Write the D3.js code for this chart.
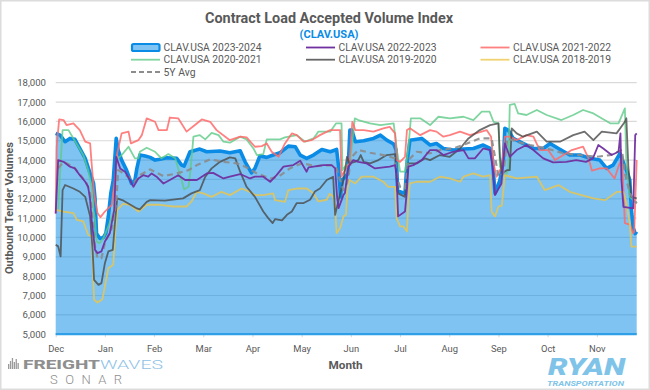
<!DOCTYPE html>
<html><head><meta charset="utf-8">
<script src="https://cdn.jsdelivr.net/npm/d3@7/dist/d3.min.js"></script>
<style>html,body{margin:0;padding:0;background:#fff}svg{display:block}text{font-family:Roboto,"Noto Sans",sans-serif}</style>
</head><body><svg id="c" width="650" height="390"></svg>
<script>
const months=["Dec","Jan","Feb","Mar","Apr","May","Jun","Jul","Aug","Sep","Oct","Nov"];
const yTicks=[5000,6000,7000,8000,9000,10000,11000,12000,13000,14000,15000,16000,17000,18000];
// [month position, tender volume]
const clav2324=[[0,15380],[.09,15290],[.19,14950],[.29,15120],[.39,15070],[.49,14600],[.6,14090],[.7,13310],[.77,12800],[.8,12000],[.83,10200],[.9,9950],[.97,10000],[1.02,10220],[1.07,11090],[1.12,12280],[1.17,12970],[1.23,15120],[1.27,14520],[1.34,14000],[1.44,13480],[1.54,12790],[1.61,12960],[1.65,13570],[1.71,14260],[1.82,14210],[1.92,14140],[2.02,14000],[2.12,14040],[2.26,14120],[2.46,14090],[2.56,13740],[2.61,13690],[2.66,14000],[2.73,14430],[2.93,14570],[3.07,14430],[3.34,14470],[3.54,14380],[3.75,14480],[3.85,13910],[3.98,13340],[4.05,13570],[4.15,14210],[4.29,14140],[4.42,14260],[4.56,14380],[4.73,14720],[4.87,14690],[4.97,14260],[5.1,14090],[5.24,14260],[5.41,14550],[5.58,14430],[5.71,14550],[5.75,13660],[5.79,12100],[5.82,12970],[5.89,13140],[5.94,13310],[5.98,15550],[6.02,15550],[6.09,14950],[6.26,15000],[6.46,15120],[6.6,15290],[6.73,15030],[6.87,14830],[6.92,14520],[6.95,12450],[7,12360],[7.1,12280],[7.14,13830],[7.2,15030],[7.44,15120],[7.61,14780],[7.74,14860],[7.88,14600],[8.08,14520],[8.29,14570],[8.49,14600],[8.69,14780],[8.83,14600],[8.88,14000],[8.93,12280],[9.03,12970],[9.1,14000],[9.13,15640],[9.2,15550],[9.3,15120],[9.5,14860],[9.71,14600],[9.91,14600],[10.05,14860],[10.22,14600],[10.45,14260],[10.66,14260],[10.86,14090],[11.06,14000],[11.2,13570],[11.33,13740],[11.47,14350],[11.6,13480],[11.67,12970],[11.7,11500],[11.74,10500],[11.78,10200],[11.81,10300]];
const clav2223=[[0,11240],[.05,14000],[.16,13910],[.29,13660],[.39,13570],[.49,13220],[.6,12880],[.66,12620],[.7,11950],[.73,10910],[.8,9360],[.85,9190],[.93,9280],[1,9790],[1.1,10220],[1.19,11430],[1.23,14170],[1.31,13570],[1.41,13400],[1.51,12970],[1.58,12620],[1.68,13050],[1.78,13220],[1.88,13140],[1.95,13310],[2.05,13140],[2.19,12790],[2.32,12970],[2.49,13220],[2.63,12970],[2.87,12970],[3.07,13310],[3.2,13340],[3.41,13050],[3.54,13140],[3.75,13280],[3.95,13050],[4.05,13140],[4.22,13140],[4.36,12880],[4.49,13220],[4.63,13660],[4.83,13740],[4.97,13970],[5.1,13400],[5.14,13620],[5.44,13740],[5.61,13740],[5.68,13570],[5.72,12100],[5.75,11520],[5.85,12200],[5.88,12300],[5.95,13660],[6.05,14000],[6.15,13910],[6.32,13830],[6.49,13570],[6.66,13620],[6.79,13660],[6.9,13740],[6.93,13140],[6.96,11090],[7.1,11340],[7.14,12470],[7.17,13660],[7.27,13740],[7.44,14000],[7.61,14520],[7.74,14520],[7.88,14260],[8.08,14430],[8.29,14520],[8.39,14090],[8.52,14090],[8.69,14600],[8.83,14520],[8.88,13660],[8.93,12190],[9.06,12790],[9.13,14860],[9.23,14170],[9.37,14520],[9.57,14780],[9.71,14520],[9.91,14090],[10.11,13880],[10.38,13910],[10.58,14000],[10.78,13910],[10.92,14090],[11.03,14780],[11.13,14600],[11.3,14260],[11.44,14430],[11.48,15380],[11.5,12970],[11.54,11580],[11.74,11500],[11.78,15290],[11.81,15380]];
const clav2122=[[0,11240],[.02,14690],[.07,16100],[.16,16070],[.22,15810],[.36,15900],[.49,15550],[.6,14950],[.7,14860],[.73,13830],[.78,12280],[.8,11950],[.85,11260],[.91,11050],[1,11340],[1.14,11690],[1.21,13140],[1.25,14340],[1.34,15380],[1.48,15470],[1.53,14860],[1.68,15030],[1.75,15290],[1.85,16160],[2.02,15980],[2.09,15550],[2.26,15550],[2.32,16200],[2.49,16160],[2.66,15470],[2.83,15810],[2.97,16100],[3.14,15980],[3.27,15550],[3.54,15030],[3.75,15210],[3.88,15170],[4.05,14690],[4.19,14720],[4.29,14860],[4.39,14430],[4.53,14170],[4.66,14860],[4.8,15380],[4.9,15290],[5.04,14950],[5.2,15030],[5.37,15290],[5.58,15550],[5.71,15550],[5.78,15550],[5.81,13140],[5.88,13480],[5.97,13830],[6.03,15980],[6.09,15550],[6.26,15550],[6.46,15470],[6.66,15640],[6.79,15720],[6.9,15380],[6.93,14000],[7,13910],[7.1,14170],[7.14,15550],[7.2,15640],[7.41,15290],[7.61,15550],[7.74,15470],[7.88,15210],[8.01,15290],[8.22,15470],[8.42,15290],[8.76,15550],[8.85,15210],[8.9,13830],[8.96,13140],[9.07,13660],[9.13,15210],[9.23,15210],[9.37,15030],[9.57,15290],[9.71,15210],[9.84,14520],[10.01,14520],[10.15,14000],[10.32,14260],[10.49,14520],[10.72,14690],[10.83,14090],[10.9,13450],[11.06,13570],[11.2,13570],[11.36,13050],[11.44,13660],[11.51,14090],[11.54,12450],[11.57,10740],[11.67,10660],[11.74,10220],[11.76,10300],[11.81,14000]];
const clav2021=[[0,11410],[.05,11410],[.1,13830],[.14,15550],[.26,15550],[.36,15120],[.46,14690],[.56,14260],[.66,13480],[.73,12620],[.77,11410],[.8,10910],[.83,9790],[.89,9700],[.97,9970],[1.07,10570],[1.19,11430],[1.23,14000],[1.34,14260],[1.48,14690],[1.61,14090],[1.68,14090],[1.71,14430],[1.85,14640],[2.02,14430],[2.15,14090],[2.29,14310],[2.43,14090],[2.49,13570],[2.56,12970],[2.61,12480],[2.7,12620],[2.74,13480],[2.8,15210],[2.93,15290],[3.04,15070],[3.17,15410],[3.31,15290],[3.41,14950],[3.54,14900],[3.75,15210],[3.88,15070],[4.02,14600],[4.09,14260],[4.22,14310],[4.29,15070],[4.56,15070],[4.66,15170],[4.9,15290],[5.07,14950],[5.24,15120],[5.34,15470],[5.58,15470],[5.7,15900],[5.81,15900],[5.83,13480],[5.88,13660],[5.98,13830],[6.08,16160],[6.15,16070],[6.39,15900],[6.6,15810],[6.87,15900],[6.94,14430],[7,13400],[7.1,13400],[7.17,14690],[7.22,16160],[7.41,16160],[7.61,15810],[7.78,16240],[8.01,16160],[8.29,16240],[8.49,16070],[8.66,16500],[8.82,16500],[8.9,15980],[9,15900],[9.03,13660],[9.13,13140],[9.2,13480],[9.23,16850],[9.33,16900],[9.4,16410],[9.57,16330],[9.78,16590],[9.98,16330],[10.28,16070],[10.52,16330],[10.72,16590],[10.93,16410],[11.27,15900],[11.44,15900],[11.57,16670],[11.6,13830],[11.67,12100],[11.81,11760]];
const clav1920=[[0,9620],[.05,9540],[.1,9020],[.14,12450],[.19,12710],[.36,12530],[.49,12360],[.6,12100],[.7,11090],[.75,9360],[.78,7810],[.87,7550],[.93,7640],[1,8670],[1.07,9280],[1.16,9360],[1.21,10910],[1.25,12020],[1.38,11900],[1.65,11500],[1.71,11450],[1.85,11840],[1.92,11930],[2.22,11900],[2.59,12020],[2.76,12280],[2.93,12450],[3.04,13140],[3.17,13570],[3.34,13910],[3.54,14140],[3.65,14090],[3.75,13400],[3.88,12620],[4.05,12100],[4.22,11340],[4.32,11000],[4.41,10740],[4.46,10950],[4.6,10880],[4.7,11170],[4.8,11340],[4.9,11780],[5.04,11780],[5.17,11950],[5.27,12380],[5.37,12530],[5.51,12970],[5.64,13140],[5.68,11170],[5.85,12970],[5.92,14170],[5.97,13830],[6.08,13910],[6.15,14000],[6.2,14260],[6.26,13910],[6.39,13830],[6.56,14000],[6.73,14260],[6.9,14310],[6.92,13310],[6.96,12280],[7.1,12100],[7.17,13830],[7.34,13830],[7.51,14090],[7.61,14000],[7.81,14260],[8.01,14170],[8.22,14600],[8.39,15120],[8.62,15550],[8.83,15810],[9,15900],[9.03,14170],[9.07,13310],[9.17,13480],[9.23,13480],[9.27,15640],[9.37,15380],[9.5,15210],[9.78,15470],[9.98,14950],[10.25,14950],[10.52,15290],[10.75,15470],[10.93,15030],[11.1,15470],[11.4,15380],[11.57,15980],[11.6,16160],[11.64,13660],[11.7,12100],[11.81,12020]];
const clav1819=[[0,11430],[.16,11340],[.36,11260],[.43,10910],[.56,10830],[.66,10140],[.73,10050],[.78,6780],[.85,6640],[.95,6810],[1,7470],[1.07,8410],[1.17,8590],[1.21,10220],[1.25,11430],[1.37,11740],[1.51,11690],[1.68,11340],[1.85,11690],[2.12,11690],[2.39,11600],[2.66,11600],[2.76,11860],[2.87,12360],[3,12280],[3.17,12100],[3.37,12360],[3.54,12190],[3.78,12530],[3.95,12360],[4.05,12190],[4.22,12190],[4.42,12280],[4.46,11930],[4.66,11840],[4.73,12450],[4.9,12530],[5.1,12530],[5.24,12280],[5.34,11860],[5.51,11950],[5.57,12260],[5.64,12120],[5.68,11600],[5.71,10220],[5.78,10480],[5.85,11090],[5.9,11170],[5.93,12470],[5.97,12970],[6.09,12790],[6.22,13140],[6.46,13140],[6.66,12880],[6.76,12620],[6.9,12620],[6.93,11000],[7,10570],[7.07,10570],[7.14,10310],[7.17,11950],[7.2,12790],[7.34,12880],[7.61,12880],[7.81,13140],[8.01,13050],[8.22,12880],[8.29,13140],[8.49,13310],[8.69,13140],[8.83,13220],[8.86,11340],[8.93,11090],[9,11600],[9.07,11640],[9.1,12470],[9.13,13220],[9.37,13050],[9.78,13140],[9.94,12450],[10.22,12710],[10.45,12360],[10.93,12020],[11.17,11930],[11.41,12360],[11.54,12360],[11.6,11760],[11.67,10740],[11.7,9530],[11.81,9530]];
const avg5y=[[.05,13570],[.16,13910],[.36,13660],[.53,13140],[.63,12790],[.7,12280],[.73,11410],[.8,9530],[.85,8930],[.93,8930],[1,9710],[1.14,10480],[1.23,11780],[1.27,13480],[1.38,13310],[1.61,12880],[1.71,13220],[1.92,13520],[2.19,13170],[2.46,13310],[2.7,13480],[2.87,13740],[3.14,14040],[3.41,13910],[3.68,13830],[3.85,13660],[4.09,13310],[4.36,13050],[4.53,13140],[4.76,13570],[5,13830],[5.3,13690],[5.58,13740],[5.71,13570],[5.78,12970],[5.85,12450],[5.92,12790],[6.02,14170],[6.15,14520],[6.39,14380],[6.66,14260],[6.9,14090],[6.93,13140],[7,12620],[7.1,12530],[7.17,14000],[7.34,14430],[7.61,14350],[7.81,14520],[8.08,14600],[8.36,14860],[8.62,15120],[8.86,15120],[8.93,14170],[9,13140],[9.1,13310],[9.18,15120],[9.37,14950],[9.64,14780],[9.98,14600],[10.32,14350],[10.66,14260],[11,14170],[11.27,14260],[11.51,14520],[11.57,13310],[11.67,12280],[11.81,11760]];
const seriesNames=["CLAV.USA 2023-2024","CLAV.USA 2022-2023","CLAV.USA 2021-2022","CLAV.USA 2020-2021","CLAV.USA 2019-2020","CLAV.USA 2018-2019","5Y Avg"];

const svg=d3.select("#c");
const x=d3.scaleLinear().domain([0,11.81]).range([55.7,636.7]);
const y=d3.scaleLinear().domain([5000,18000]).range([334.2,82.7]);
const gray="#595959";
function txt(s,px,py,size,weight,fill,len,anchor){
  const t=svg.append("text").attr("x",px).attr("y",py).attr("font-size",size).attr("font-weight",weight).attr("fill",fill).attr("text-anchor",anchor||"start").text(s);
  if(len)t.attr("textLength",len).attr("lengthAdjust","spacingAndGlyphs");
  return t;
}
svg.append("rect").attr("x",.75).attr("y",.75).attr("width",648.5).attr("height",388.5).attr("fill","#fff").attr("stroke","#dcdcdc").attr("stroke-width",1.5);

// grid
svg.append("g").selectAll("line").data(yTicks).join("line").attr("x1",x.range()[0]).attr("x2",x.range()[1]).attr("y1",d=>y(d)).attr("y2",d=>y(d)).attr("stroke","#d9d9d9").attr("stroke-width",1.2);

// axes
const ya=svg.append("g").attr("transform","translate(46,0)").call(d3.axisLeft(y).tickValues(yTicks).tickSize(0).tickPadding(0).tickFormat(d3.format(",")));
ya.select(".domain").remove();
ya.selectAll("text").attr("font-size",9.6).attr("fill",gray).attr("font-family","Roboto");
const xa=svg.append("g").attr("transform","translate(0,334.2)").call(d3.axisBottom(d3.scaleLinear().domain(x.domain()).range(x.range())).tickValues(d3.range(12)).tickSize(3).tickPadding(8).tickFormat(i=>months[i]));
xa.select(".domain").remove();
xa.selectAll("line").attr("stroke","#d9d9d9");
xa.selectAll("text").attr("font-size",9.4).attr("fill",gray);

// area + lines
const line=d3.line().x(d=>x(d[0])).y(d=>y(d[1]));
const area=d3.area().x(d=>x(d[0])).y0(y(5000)).y1(d=>y(d[1]));
svg.append("path").datum(clav2324).attr("d",area).attr("fill","#0a8ce6").attr("fill-opacity",.52);
svg.append("line").attr("x1",x(0)).attr("x2",x(11.81)).attr("y1",y(5000)).attr("y2",y(5000)).attr("stroke","#2f9fe8").attr("stroke-width",2.2);
svg.append("path").datum(clav2324).attr("d",line).attr("fill","none").attr("stroke","#0a8ce6").attr("stroke-width",3.6).attr("stroke-linejoin","round");
const others=[[clav2021,"#5fcb87",.8,1.8,null],[clav2122,"#ff6a6a",.85,1.8,null],[clav1819,"#e6c654",.85,1.8,null],[clav1920,"#4a4a4a",.8,1.8,null],[avg5y,"#8c8c8c",.9,2.2,"6,4"],[clav2223,"#7030a0",.95,1.8,null]];
others.forEach(o=>{
  svg.append("path").datum(o[0]).attr("d",line).attr("fill","none").attr("stroke",o[1]).attr("stroke-opacity",o[2]).attr("stroke-width",o[3]).attr("stroke-linejoin","round").attr("stroke-dasharray",o[4]);
});

// titles
txt("Contract Load Accepted Volume Index",329,23,15,700,gray,248,"middle");
txt("(CLAV.USA)",329,37.5,10.5,700,"#0a8ce6",59,"middle");
txt("Month",345.5,369,11.5,700,gray,34,"middle");
svg.append("text").attr("transform","translate(13,208) rotate(-90)").attr("text-anchor","middle").attr("font-size",10.5).attr("font-weight",700).attr("fill",gray).attr("textLength",132).attr("lengthAdjust","spacingAndGlyphs").text("Outbound Tender Volumes");

// legend
const legendCols=[131,306,480.5], legendRows=[47.5,59.7,72];
const swatch=[null,["#7030a0",null],["#ff8080",null],["#7fd6a0",null],["#666666",null],["#f0d270",null],["#8c8c8c","5,3"]];
seriesNames.forEach((n,i)=>{
  const cx=legendCols[i%3], cy=legendRows[Math.floor(i/3)];
  if(i===0){
    svg.append("rect").attr("x",cx+1).attr("y",cy-3.5).attr("width",27.5).attr("height",7).attr("rx",1.5).attr("fill","#7fc4f3").attr("stroke","#0a8ce6").attr("stroke-width",2.2);
  }else{
    svg.append("line").attr("x1",cx).attr("x2",cx+29).attr("y1",cy).attr("y2",cy).attr("stroke",swatch[i][0]).attr("stroke-width",1.8).attr("stroke-dasharray",swatch[i][1]);
  }
  txt(n,cx+32.5,cy+3.5,10,400,gray,i===6?32:98);
});

// logos
const bars=[5,8,11,7,10,6];
svg.append("g").selectAll("rect").data(bars).join("rect").attr("x",(d,i)=>8+i*1.9).attr("y",d=>369-d).attr("width",1.3).attr("height",d=>d).attr("fill","#9a9a9a");
txt("FREIGHT",23,369,13,800,"#8f8f8f",77);
txt("WAVES",100,369,13,300,"#8fc3e6",63);
txt("SONAR",50,384,13,300,"#8f8f8f",72).attr("lengthAdjust","spacing");
txt("RYAN",548,375,24,900,"#7fc4e8",77).attr("font-style","italic");
txt("TRANSPORTATION",547,385.5,7.5,700,"#7fc4e8",77).attr("font-style","italic");
</script></body></html>
